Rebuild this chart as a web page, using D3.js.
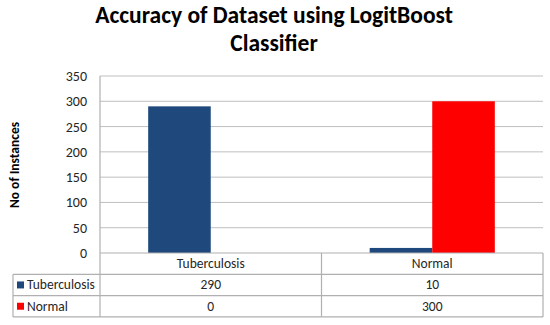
<!DOCTYPE html>
<html>
<head>
<meta charset="utf-8">
<script src="https://cdn.jsdelivr.net/npm/d3@7"></script>
<style>
  body { margin: 0; background: #fff; }
  text { font-family: Carlito, "Open Sans", "Liberation Sans", sans-serif; }
</style>
</head>
<body>
<script>
// data
const categories = ['Tuberculosis', 'Normal'];
const seriesNames = ['Tuberculosis', 'Normal'];
const tuberculosisValues = [290, 10];
const normalValues = [0, 300];
const yTicks = [0, 50, 100, 150, 200, 250, 300, 350];
const colors = ['#1f497d', '#ff0000'];

const seriesValues = [tuberculosisValues, normalValues];

const W = 550, H = 325;
const plotLeft = 100, plotRight = 543, plotTop = 76, plotBottom = 253;
const tableLeft = 13;
const rowH = 21.3;

const svg = d3.select('body').append('svg')
    .attr('width', W)
    .attr('height', H);

// Titel
const title = svg.append('g')
    .attr('text-anchor', 'middle')
    .attr('font-weight', 'bold')
    .attr('font-size', 23.5)
    .attr('fill', '#000');
title.append('text').attr('x', 274).attr('y', 23).text('Accuracy of Dataset using LogitBoost');
title.append('text').attr('x', 274).attr('y', 51).text('Classifier');

// Skalen
const y = d3.scaleLinear().domain([0, 350]).range([plotBottom, plotTop]);
const x0 = d3.scaleBand().domain(categories).range([plotLeft, plotRight]);
const x1 = d3.scaleBand().domain(seriesNames).range([0, x0.bandwidth()]).paddingOuter(0.77);

// Gitterlinien
svg.append('g')
    .selectAll('line')
    .data(yTicks.slice(1))
    .join('line')
    .attr('x1', plotLeft).attr('x2', plotRight)
    .attr('y1', d => y(d)).attr('y2', d => y(d))
    .attr('stroke', '#bfbfbf').attr('stroke-width', 1);

// y-Achse
const yAxis = svg.append('g')
    .attr('transform', `translate(${plotLeft},0)`)
    .call(d3.axisLeft(y).tickValues(yTicks).tickSize(0).tickPadding(13));
yAxis.select('.domain').remove();
yAxis.selectAll('text')
    .attr('font-size', 14)
    .attr('fill', '#262626')
    .style('font-family', 'Carlito, "Open Sans", "Liberation Sans", sans-serif');

svg.append('text')
    .attr('transform', 'translate(19,165) rotate(-90)')
    .attr('text-anchor', 'middle')
    .attr('font-weight', 'bold')
    .attr('font-size', 13.5)
    .attr('fill', '#000')
    .text('No of Instances');

// Balken
const groups = svg.append('g')
    .selectAll('g')
    .data(seriesNames)
    .join('g')
    .attr('fill', (d, i) => colors[i]);

groups.selectAll('rect')
    .data((s, si) => categories.map((c, ci) => ({ s, c, v: seriesValues[si][ci] })))
    .join('rect')
    .attr('x', d => x0(d.c) + x1(d.s))
    .attr('width', x1.bandwidth())
    .attr('y', d => y(d.v))
    .attr('height', d => y(0) - y(d.v));

// Datentabelle
const grid = '#b0b0b0';
const rowY = [plotBottom, plotBottom + rowH, plotBottom + 2 * rowH, plotBottom + 3 * rowH];
const tbl = svg.append('g').attr('stroke', grid).attr('stroke-width', 1.2);

tbl.append('line').attr('x1', plotLeft).attr('x2', plotRight).attr('y1', rowY[0]).attr('y2', rowY[0]);
rowY.slice(1).forEach(ry => {
    tbl.append('line').attr('x1', tableLeft).attr('x2', plotRight).attr('y1', ry).attr('y2', ry);
});
tbl.append('line').attr('x1', plotLeft).attr('x2', plotLeft).attr('y1', plotTop).attr('y2', rowY[3]);
tbl.append('line').attr('x1', tableLeft).attr('x2', tableLeft).attr('y1', rowY[1]).attr('y2', rowY[3]);
categories.forEach(c => {
    const xr = x0(c) + x0.bandwidth();
    tbl.append('line').attr('x1', xr).attr('x2', xr).attr('y1', rowY[0]).attr('y2', rowY[3]);
});

// Kopfzeile
svg.append('g')
    .selectAll('text')
    .data(categories)
    .join('text')
    .attr('x', d => x0(d) + x0.bandwidth() / 2)
    .attr('y', rowY[0] + rowH / 2 + 4.5)
    .attr('text-anchor', 'middle')
    .attr('font-size', 13.5)
    .attr('fill', '#262626')
    .text(d => d);

// Zeilen
seriesNames.forEach((s, si) => {
    const cy = rowY[si + 1] + rowH / 2;
    svg.append('rect')
        .attr('x', 17).attr('y', cy - 3.5)
        .attr('width', 7).attr('height', 7)
        .attr('fill', colors[si]);
    svg.append('text')
        .attr('x', 27).attr('y', cy + 4.5)
        .attr('font-size', 13.5)
        .attr('fill', '#262626')
        .text(s);
    svg.append('g')
        .selectAll('text')
        .data(categories)
        .join('text')
        .attr('x', d => x0(d) + x0.bandwidth() / 2)
        .attr('y', cy + 4.5)
        .attr('text-anchor', 'middle')
        .attr('font-size', 13.5)
        .attr('fill', '#262626')
        .text((d, ci) => seriesValues[si][ci]);
});
</script>
</body>
</html>
